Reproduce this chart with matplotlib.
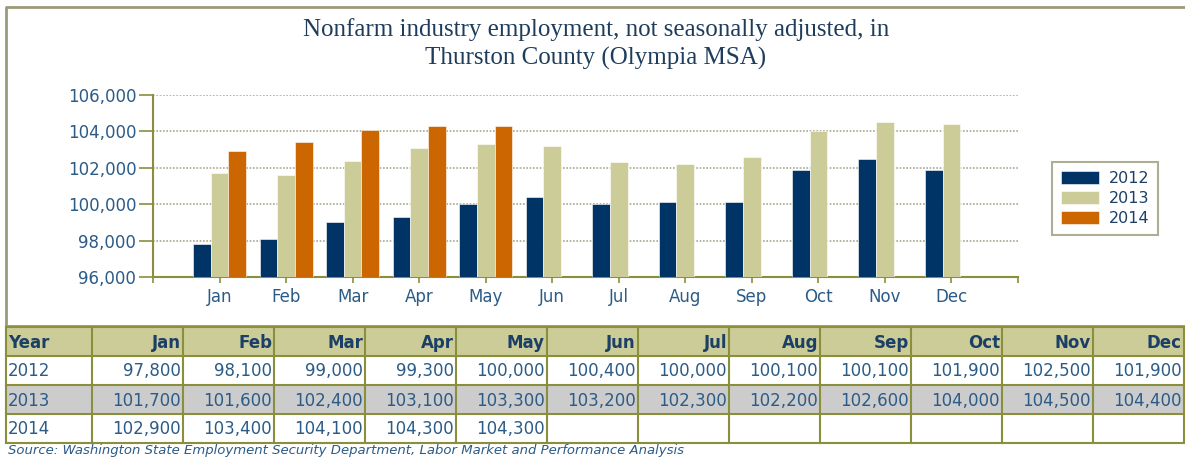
import numpy as np
import matplotlib
matplotlib.use('Agg')
import matplotlib.pyplot as plt
from matplotlib.patches import Rectangle

# data
months = ['Jan', 'Feb', 'Mar', 'Apr', 'May', 'Jun', 'Jul', 'Aug', 'Sep', 'Oct', 'Nov', 'Dec']
years = ['2012', '2013', '2014']
emp_2012 = [97800, 98100, 99000, 99300, 100000, 100400, 100000, 100100, 100100, 101900, 102500, 101900]
emp_2013 = [101700, 101600, 102400, 103100, 103300, 103200, 102300, 102200, 102600, 104000, 104500, 104400]
emp_2014 = [102900, 103400, 104100, 104300, 104300]
yticks = [96000, 98000, 100000, 102000, 104000, 106000]

title = 'Nonfarm industry employment, not seasonally adjusted, in\nThurston County (Olympia MSA)'
source = 'Source: Washington State Employment Security Department, Labor Market and Performance Analysis'

colors = ['#003366', '#cccc99', '#cc6600']
txt_col = '#2b5b87'
hdr_col = '#1c3f66'
olive = '#8a8f3c'
frame_col = '#9a9a7a'

W, H = 1185, 458
fig = plt.figure(figsize=(W / 100, H / 100), dpi=100)

# overlay in pixel coords for frame + table
bg = fig.add_axes([0, 0, 1, 1])
bg.set_xlim(0, W)
bg.set_ylim(H, 0)
bg.axis('off')

# chart frame
bg.plot([6, 6, W + 5], [326, 7, 7], color=frame_col, lw=2, solid_capstyle='butt')
bg.plot([6, W + 5], [325.5, 325.5], color=frame_col, lw=2)

bg.text(596, 44, title, ha='center', va='center', fontsize=18,
        family='Liberation Serif', color='#1e3d5c', linespacing=1.35)

# bar chart
ax = fig.add_axes([153 / W, 1 - 277 / H, (1018 - 153) / W, (277 - 95) / H])
x = np.arange(1, 13)
bw = 0.265
series = [emp_2012, emp_2013, emp_2014]
for i, (vals, c, lab) in enumerate(zip(series, colors, years)):
    xi = x[:len(vals)] + (i - 1) * bw
    ax.bar(xi, np.array(vals) - 96000, bw, bottom=96000, color=c,
           edgecolor='white', linewidth=0.4, label=lab, zorder=3)
ax.set_xlim(0, 13)
ax.set_ylim(96000, 106000)
ax.set_yticks(yticks)
ax.set_yticklabels(['{:,}'.format(v) for v in yticks])
ax.set_xticks(list(range(0, 14)))
ax.set_xticklabels([''] + months + [''])
ax.tick_params(axis='y', length=10, width=1.2, color=olive, labelcolor=txt_col,
               labelsize=12, pad=2)
ax.tick_params(axis='x', length=4, width=1.2, color=olive, labelcolor=txt_col,
               labelsize=12, pad=4)
for s in ['top', 'right']:
    ax.spines[s].set_visible(False)
for s in ['left', 'bottom']:
    ax.spines[s].set_color(olive)
    ax.spines[s].set_linewidth(1.5)
ax.yaxis.grid(True, linestyle=(0, (1, 1)), color='#a8a890', linewidth=1.2, zorder=0)
ax.set_axisbelow(True)

leg = ax.legend(loc='center left', bbox_to_anchor=(1.03, 0.43), fontsize=11.5,
                frameon=True, fancybox=False, handlelength=2.4, handleheight=0.9,
                borderpad=0.55, labelspacing=0.3, handletextpad=0.6)
leg.get_frame().set_edgecolor(frame_col)
leg.get_frame().set_linewidth(1.5)
for t in leg.get_texts():
    t.set_color(hdr_col)

# table
col_edges = [6, 92] + [92 + 91 * (k + 1) for k in range(12)]
row_edges = [327, 356, 385, 414, 443]
row_fill = ['#cccc99', 'white', '#cccccc', 'white']
header = ['Year'] + months
rows = [header]
for yr, vals in zip(years, series):
    rows.append([yr] + ['{:,}'.format(v) for v in vals] + [''] * (12 - len(vals)))

for r in range(4):
    y0, y1 = row_edges[r], row_edges[r + 1]
    bg.add_patch(Rectangle((6, y0), W, y1 - y0, facecolor=row_fill[r], edgecolor='none', zorder=1))
    for c in range(13):
        x0, x1 = col_edges[c], col_edges[c + 1]
        s = rows[r][c]
        if r == 0:
            kw = dict(color=hdr_col, fontweight='bold', fontsize=12)
        else:
            kw = dict(color=txt_col, fontsize=12)
        if c == 0:
            bg.text(x0 + 2, (y0 + y1) / 2 + 1, s, ha='left', va='center', zorder=3, **kw)
        else:
            bg.text(x1 - 2, (y0 + y1) / 2 + 1, s, ha='right', va='center', zorder=3, **kw)
for ye in row_edges:
    bg.plot([6, W + 5], [ye, ye], color=olive, lw=1.5, zorder=2)
for xe in col_edges:
    bg.plot([xe, xe], [row_edges[0], row_edges[-1]], color=olive, lw=1.5, zorder=2)

bg.text(8, 457, source, ha='left', va='bottom', fontsize=9.5, style='italic', color=txt_col)

fig.savefig('out.png', dpi=100)
